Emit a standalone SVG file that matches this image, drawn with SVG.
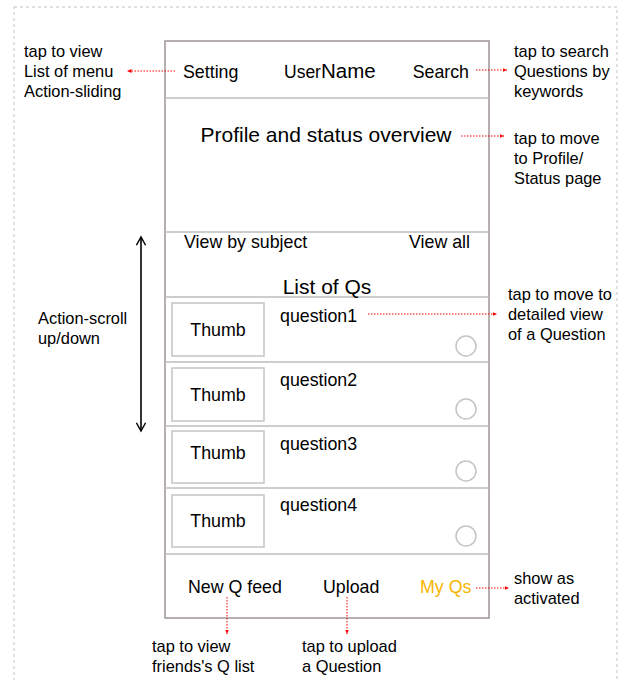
<svg xmlns="http://www.w3.org/2000/svg" width="623" height="680" viewBox="0 0 623 680">
<defs>
<marker id="ra" viewBox="0 0 10 10" refX="9" refY="5" markerWidth="5" markerHeight="5" orient="auto"><path d="M0,1 L9,5 L0,9 Z" fill="#ff0000"/></marker>
<marker id="ba" viewBox="0 0 12 12" refX="10" refY="6" markerWidth="11" markerHeight="11" markerUnits="userSpaceOnUse" orient="auto-start-reverse"><path d="M1,1 L10,6 L1,11" fill="none" stroke="#000" stroke-width="1.6"/></marker>
<style>
text{font-family:"Liberation Sans",Arial,sans-serif;fill:#000}
.a{font-size:16.4px}
.m{font-size:17.8px}
.l{font-size:21px}
.div{stroke:#bdbdbd;stroke-width:1.5}
.th{fill:#fff;stroke:#c4c4c4;stroke-width:1.5}
.ci{fill:#fff;stroke:#c4c4c4;stroke-width:1.5}
.rd{stroke:#ff0000;stroke-width:1;stroke-dasharray:1.5 1.5;fill:none;marker-end:url(#ra)}
</style>
</defs>
<rect x="0" y="0" width="623" height="680" fill="#fff"/>
<rect x="14" y="7" width="603" height="700" fill="none" stroke="#c2c2c2" stroke-dasharray="3 3"/>

<g id="phone">
<rect x="165" y="41" width="324" height="577" fill="#fff" stroke="#9e9494" stroke-width="1.5"/>
<line class="div" x1="165" y1="98" x2="489" y2="98"/>
<line class="div" x1="165" y1="232" x2="489" y2="232"/>
<line class="div" x1="165" y1="297" x2="489" y2="297"/>
<line class="div" x1="165" y1="362" x2="489" y2="362"/>
<line class="div" x1="165" y1="426" x2="489" y2="426"/>
<line class="div" x1="165" y1="488" x2="489" y2="488"/>
<line class="div" x1="165" y1="554" x2="489" y2="554"/>
</g>

<g id="header">
<text class="m" x="183" y="78">Setting</text>
<text x="284" y="78"><tspan font-size="17.5">User</tspan><tspan font-size="20.5">Name</tspan></text>
<text class="m" x="469" y="78" text-anchor="end">Search</text>
</g>

<g id="profile">
<text class="l" x="326" y="142" text-anchor="middle">Profile and status overview</text>
</g>

<g id="filter">
<text class="m" x="184" y="248">View by subject</text>
<text class="m" x="470" y="248" text-anchor="end">View all</text>
<text class="l" x="327" y="294" text-anchor="middle">List of Qs</text>
</g>

<g id="row1">
<rect class="th" x="172" y="303" width="92" height="53"/>
<text class="m" x="218" y="336" text-anchor="middle">Thumb</text>
<text class="m" x="280" y="322">question1</text>
<circle class="ci" cx="466" cy="346" r="10"/>
</g>
<g id="row2">
<rect class="th" x="172" y="368" width="92" height="53"/>
<text class="m" x="218" y="401" text-anchor="middle">Thumb</text>
<text class="m" x="280" y="386">question2</text>
<circle class="ci" cx="466" cy="409" r="10"/>
</g>
<g id="row3">
<rect class="th" x="172" y="431" width="92" height="52"/>
<text class="m" x="218" y="459" text-anchor="middle">Thumb</text>
<text class="m" x="280" y="450">question3</text>
<circle class="ci" cx="466" cy="471" r="10"/>
</g>
<g id="row4">
<rect class="th" x="172" y="495" width="92" height="52"/>
<text class="m" x="218" y="527" text-anchor="middle">Thumb</text>
<text class="m" x="280" y="511">question4</text>
<circle class="ci" cx="466" cy="536" r="10"/>
</g>

<g id="footer">
<text class="m" x="188" y="593">New Q feed</text>
<text class="m" x="323" y="593">Upload</text>
<text class="m" x="420" y="593" style="fill:#f7b500">My Qs</text>
</g>

<g id="notes">
<text class="a" x="24" y="57">tap to view</text>
<text class="a" x="24" y="77">List of menu</text>
<text class="a" x="24" y="97">Action-sliding</text>
<text class="a" x="514" y="57">tap to search</text>
<text class="a" x="514" y="77">Questions by</text>
<text class="a" x="514" y="97">keywords</text>
<text class="a" x="514" y="144">tap to move</text>
<text class="a" x="514" y="164">to Profile/</text>
<text class="a" x="514" y="184">Status page</text>
<text class="a" x="508" y="300">tap to move to</text>
<text class="a" x="508" y="320">detailed view</text>
<text class="a" x="508" y="340">of a Question</text>
<text class="a" x="38" y="324">Action-scroll</text>
<text class="a" x="38" y="344">up/down</text>
<text class="a" x="514" y="584">show as</text>
<text class="a" x="514" y="604">activated</text>
<text class="a" x="152" y="652">tap to view</text>
<text class="a" x="152" y="672">friends's Q list</text>
<text class="a" x="302" y="652">tap to upload</text>
<text class="a" x="302" y="672">a Question</text>
</g>

<g id="connectors">
<line class="rd" x1="175" y1="71" x2="127" y2="71"/>
<line class="rd" x1="476" y1="70" x2="507" y2="70"/>
<line class="rd" x1="461" y1="136" x2="504" y2="136"/>
<line class="rd" x1="368" y1="314" x2="497" y2="314"/>
<line class="rd" x1="476" y1="588" x2="509" y2="588"/>
<line class="rd" x1="227" y1="597" x2="227" y2="634"/>
<line class="rd" x1="347" y1="597" x2="347" y2="634"/>
<line x1="141" y1="237" x2="141" y2="431" stroke="#000" stroke-width="1.6" marker-start="url(#ba)" marker-end="url(#ba)"/>
</g>
</svg>
